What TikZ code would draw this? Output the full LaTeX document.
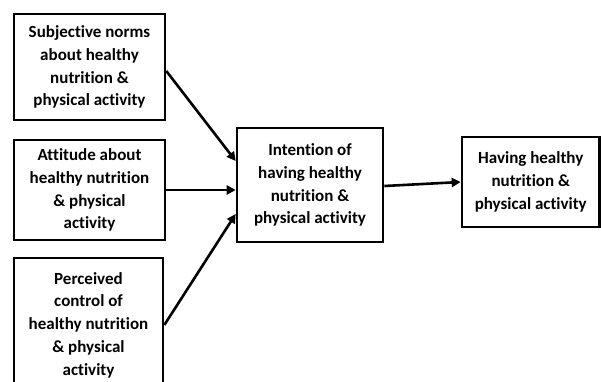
\documentclass[tikz,border=0pt]{standalone}
\usepackage{fontspec}
\setmainfont{Carlito}[Ligatures=NoCommon]
\usetikzlibrary{arrows.meta}
\begin{document}
\begin{tikzpicture}[x=1pt,y=-1pt]

      \fill[white] (0,0) rectangle (601,381);
      \clip (0,0) rectangle (601,381);

      \begin{scope}[every node/.style={draw, line width=2.6pt, align=center, inner sep=0pt,
          font=\bfseries\fontsize{17}{22.8}\selectfont}]
        \node[minimum width=151pt, minimum height=106pt] (1) at (89.5,67)
          {Subjective norms\\about healthy\\nutrition \&\\physical activity};
        \node[minimum width=151pt, minimum height=100pt] (2) at (89.5,190)
          {Attitude about\\healthy nutrition\\\& physical\\activity};
        \node[minimum width=149pt, minimum height=134pt] (3) at (88.5,325)
          {Perceived\\control of\\healthy nutrition\\\& physical\\activity};
        \node[minimum width=146pt, minimum height=114pt] (4) at (310,185)
          {Intention of\\having healthy\\nutrition \&\\physical activity};
        \node[minimum width=137.5pt, minimum height=90pt] (5) at (530.75,182)
          {Having healthy\\nutrition \&\\physical activity};
      \end{scope}

      \begin{scope}[every edge/.style={draw, line width=2.6pt, -{Triangle[length=9pt,width=9pt]}}]
        \path ([yshift=-4pt]1.east) edge ([yshift=24pt]4.west);
        \path (2.east) edge (2.east -| 4.west);
        \path (3.east) edge ([yshift=-29pt]4.west);
        \path ([yshift=-1pt]4.east) edge (5.west);
      \end{scope}

    \end{tikzpicture}
\end{document}
